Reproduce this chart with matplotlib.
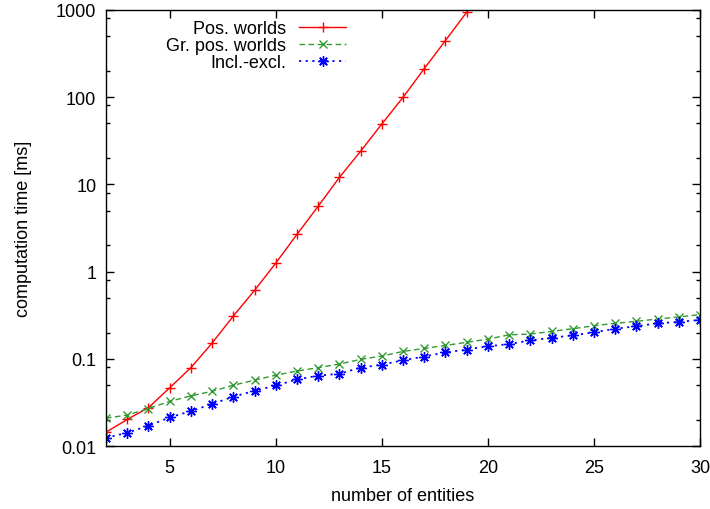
import matplotlib
matplotlib.use("Agg")
import matplotlib.pyplot as plt
from matplotlib.ticker import LogLocator, FixedLocator, NullFormatter

plt.rcParams['font.family'] = ['Liberation Sans', 'DejaVu Sans']

# number of entities
entities = list(range(2, 31))
pos_x = list(range(2, 20))

# computation time [ms]
pos_worlds = [0.0145, 0.0203, 0.0277, 0.0467, 0.0795, 0.152, 0.31, 0.61,
              1.25, 2.67, 5.6, 12.0, 23.9, 49, 99, 211, 443, 934]
gr_pos_worlds = [0.021, 0.0228, 0.027, 0.0327, 0.0378, 0.0427, 0.050, 0.0572,
                 0.0653, 0.0727, 0.0795, 0.0875, 0.099, 0.108, 0.122, 0.132,
                 0.143, 0.155, 0.169, 0.189, 0.193, 0.207, 0.222, 0.240,
                 0.256, 0.270, 0.287, 0.303, 0.322]
incl_excl = [0.0125, 0.0143, 0.0172, 0.0214, 0.0253, 0.0305, 0.037, 0.0431,
             0.0497, 0.0583, 0.0643, 0.0678, 0.0795, 0.0861, 0.0966, 0.1066,
             0.119, 0.128, 0.140, 0.148, 0.163, 0.175, 0.186, 0.202, 0.222,
             0.237, 0.256, 0.266, 0.28]

labels = ["Pos. worlds", "Gr. pos. worlds", "Incl.-excl."]
x_ticks = [5, 10, 15, 20, 25, 30]
y_ticks = [0.01, 0.1, 1, 10, 100, 1000]
y_ticklabels = ["0.01", "0.1", "1", "10", "100", "1000"]

fig = plt.figure(figsize=(7.1, 5.1), dpi=100)
ax = fig.add_axes([106 / 710, 1 - 447.3 / 510, 594 / 710, 436.6 / 510])

ax.plot(pos_x, pos_worlds, color="#ff0000", linestyle="-", linewidth=1.0,
        marker="+", markersize=7, markeredgewidth=1.0, label=labels[0])
ax.plot(entities, gr_pos_worlds, color="#339933", linestyle=(0, (4, 2.5)),
        linewidth=1.0, marker="x", markersize=6, markeredgewidth=1.0,
        label=labels[1])
ax.plot(entities, incl_excl, color="#0000ff", linestyle=(0, (1.2, 2.5)),
        linewidth=1.3, marker=(8, 2, 0), markersize=7.5, markeredgewidth=1.0,
        label=labels[2])

ax.set_yscale("log")
ax.set_xlim(2, 30)
ax.set_ylim(0.01, 1000)

ax.xaxis.set_major_locator(FixedLocator(x_ticks))
ax.set_yticks(y_ticks)
ax.set_yticklabels(y_ticklabels)
ax.yaxis.set_minor_locator(LogLocator(base=10, subs=[2, 5, 8]))
ax.yaxis.set_minor_formatter(NullFormatter())

ax.tick_params(which="both", direction="in", top=True, right=True,
               labelsize=13, width=1.0)
ax.tick_params(axis="x", pad=9)
ax.tick_params(axis="y", pad=7)
ax.tick_params(which="major", length=6)
ax.tick_params(which="minor", length=3)
for s in ax.spines.values():
    s.set_linewidth(1.0)

ax.set_xlabel("number of entities", fontsize=13, labelpad=8)
ax.set_ylabel("computation time [ms]", fontsize=13, labelpad=17)

ax.legend(loc="upper right", bbox_to_anchor=(0.404, 0.976), frameon=False,
          markerfirst=False, fontsize=13, handlelength=2.6,
          handletextpad=0.7, labelspacing=0.0, borderpad=0,
          borderaxespad=0)

fig.savefig("out.png", dpi=100)
